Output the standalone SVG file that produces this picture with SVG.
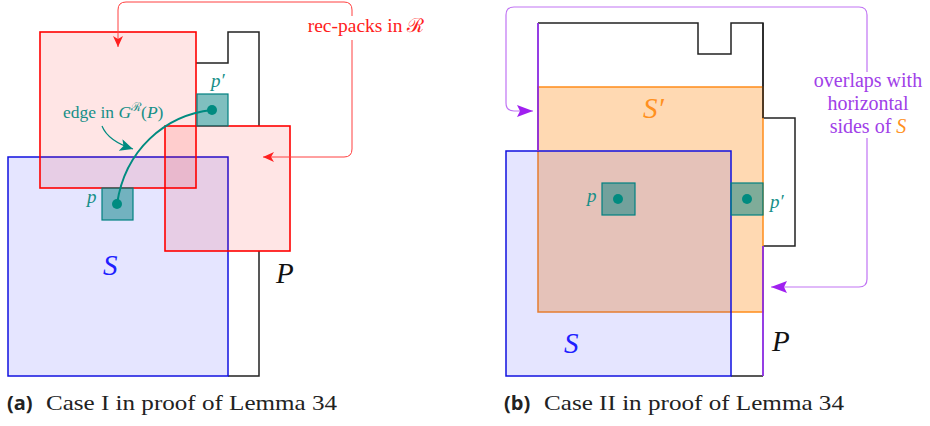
<svg xmlns="http://www.w3.org/2000/svg" width="930" height="426" viewBox="0 0 930 426">
<style>
.red{fill:#ff0000;fill-opacity:0.1;stroke:#ff0000;stroke-width:1.6}
.blue{fill:#0000ff;fill-opacity:0.1;stroke:#1010e0;stroke-width:1.5}
.orange{fill:#ff8000;fill-opacity:0.3;stroke:#ff8c1a;stroke-width:1.5}
.teal{fill:#008080;fill-opacity:0.5;stroke:#008080;stroke-width:1.2}
.dot{fill:#008b80}
.pol{fill:none;stroke:#222;stroke-width:1.5}
.purp{fill:none;stroke:#8a2be2;stroke-width:1.8}
text{font-family:'Liberation Serif','DejaVu Serif',serif}
.math{font-style:italic}
.cap{font-size:21px;fill:#222}
.capb{font-family:'Open Sans','DejaVu Sans',sans-serif;font-weight:bold;font-size:20px;fill:#222}
</style>
<defs>
<marker id="ar" markerUnits="userSpaceOnUse" markerWidth="14" markerHeight="12" refX="11" refY="5" orient="auto-start-reverse"><path d="M0,0 L11,5 L0,10 L3,5 Z" fill="#ff2020"/></marker>
<marker id="ap" markerUnits="userSpaceOnUse" markerWidth="18" markerHeight="14" refX="16" refY="6" orient="auto-start-reverse"><path d="M0,0 L16,6 L0,12 L3,6 Z" fill="#a020f0"/></marker>
<marker id="at" markerUnits="userSpaceOnUse" markerWidth="16" markerHeight="14" refX="13" refY="6" orient="auto"><path d="M0,0 L13,6 L0,12 L3,6 Z" fill="#008b80"/></marker>
</defs>

<!-- Figure (a) -->
<g id="a-P">
<path class="pol" d="M196,63 L228,63 L228,32 L259,32 L259,126 M259,251 L259,376 L228,376"/>
</g>
<g id="a-S"><rect class="blue" x="8" y="157" width="220" height="219"/></g>
<g id="a-R1"><rect class="red" x="40" y="32" width="156" height="156"/></g>
<g id="a-R2"><rect class="red" x="165" y="126" width="125" height="125"/></g>
<g id="a-pprime"><rect class="teal" x="197" y="94" width="31" height="32"/><circle class="dot" cx="212" cy="110" r="5"/></g>
<g id="a-p"><rect class="teal" x="102" y="188" width="31" height="32"/><circle class="dot" cx="117" cy="204" r="5"/></g>

<g id="connectors">
<path d="M117,204 C125,150 165,115 212,110" fill="none" stroke="#008b80" stroke-width="2"/>
<path d="M102,126 Q108,141 133,149" fill="none" stroke="#008b80" stroke-width="1.2" marker-end="url(#at)"/>
<path d="M263,157 L344,157 Q352,157 352,149 L352,10 Q352,2 344,2 L126,2 Q118,2 118,10 L118,47" fill="none" stroke="#ff4040" stroke-width="1" marker-start="url(#ar)" marker-end="url(#ar)"/>
<path d="M533,111 L514,111 Q506,111 506,103 L506,15 Q506,7 514,7 L859,7 Q867,7 867,15 L867,279 Q867,287 859,287 L771,287" fill="none" stroke="#b050f0" stroke-opacity="0.8" stroke-width="1.2" marker-start="url(#ap)" marker-end="url(#ap)"/>
</g>

<rect x="300" y="16" width="132" height="24" fill="#fff"/>
<text x="366" y="32" text-anchor="middle" font-family="Liberation Serif, DejaVu Serif, serif" font-size="19.5" fill="#ff2020">rec-packs in <tspan font-family="DejaVu Serif, serif">ℛ</tspan></text>
<text x="63" y="118" font-family="Liberation Serif, DejaVu Serif, serif" font-size="17.5" fill="#168f88">edge in <tspan font-style="italic">G</tspan><tspan font-size="12" dy="-7" font-family="DejaVu Serif, serif">ℛ</tspan><tspan dy="7">(</tspan><tspan font-style="italic">P</tspan>)</text>
<text class="math" x="211" y="87" font-size="19" fill="#168f88">p′</text>
<text class="math" x="87" y="203" font-size="19" fill="#168f88">p</text>
<text class="math" x="103" y="275" font-size="29" fill="#2020ff">S</text>
<text class="math" x="276" y="283" font-size="29" fill="#111">P</text>

<text x="7" y="410" class="capb">(a)</text>
<text x="46" y="410" class="cap" textLength="291" lengthAdjust="spacingAndGlyphs">Case I in proof of Lemma 34</text>

<!-- Figure (b) -->
<g id="b-P">
<path class="pol" d="M538,23 L698,23 L698,54 L731,54 L731,23 L763,23 L763,118 L795,118 L795,246 L763,246 M731,376 L763,376"/>
</g>
<g id="b-Sprime"><rect class="orange" x="538" y="87" width="225" height="225"/></g>
<g id="b-S"><rect class="blue" x="506" y="151" width="225" height="225"/></g>
<path class="pol" d="M763,23 L763,118"/>
<path class="purp" d="M538,23 L538,151 M763,246 L763,376"/>
<g id="b-p"><rect class="teal" x="602" y="183" width="33" height="32"/><circle class="dot" cx="618" cy="199" r="5"/></g>
<g id="b-pprime"><rect class="teal" x="731" y="183" width="32" height="32"/><circle class="dot" cx="747" cy="199" r="5"/></g>

<rect x="806" y="72" width="122" height="66" fill="#fff"/>
<text font-family="Liberation Serif, DejaVu Serif, serif" font-size="20" fill="#a040e8" text-anchor="middle"><tspan x="868" y="87">overlaps with</tspan><tspan x="868" y="110">horizontal</tspan><tspan x="868" y="133">sides of <tspan font-style="italic" fill="#ff9020">S</tspan></tspan></text>
<text class="math" x="643" y="118" font-size="29" fill="#ff9020">S′</text>
<text class="math" x="587" y="202" font-size="19" fill="#168f88">p</text>
<text class="math" x="770" y="208" font-size="19" fill="#168f88">p′</text>
<text class="math" x="564" y="353" font-size="29" fill="#2020ff">S</text>
<text class="math" x="772" y="351" font-size="29" fill="#111">P</text>

<text x="504" y="410" class="capb">(b)</text>
<text x="544" y="410" class="cap" textLength="300" lengthAdjust="spacingAndGlyphs">Case II in proof of Lemma 34</text>
</svg>
